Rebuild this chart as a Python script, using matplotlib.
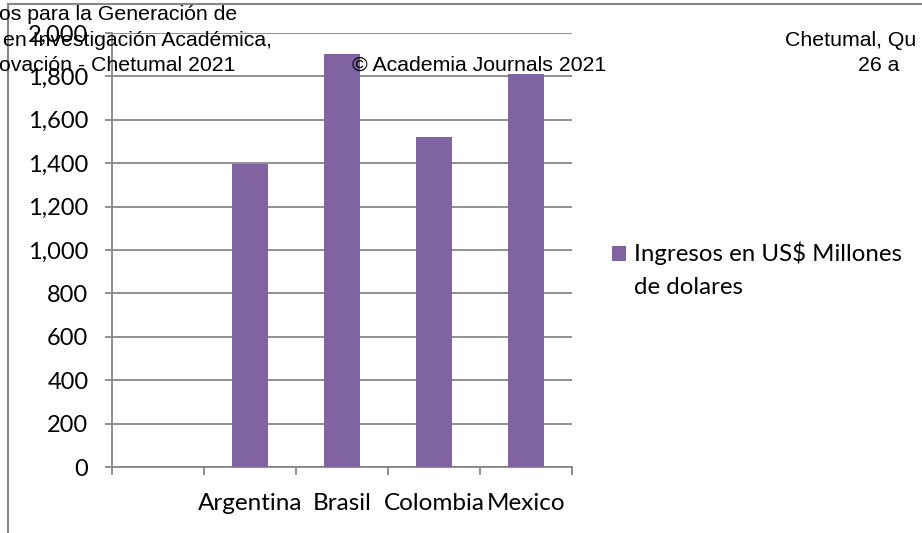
import numpy as np
import matplotlib
matplotlib.use("Agg")
import matplotlib.pyplot as plt
from matplotlib.lines import Line2D
from matplotlib.patches import Rectangle
from matplotlib.legend_handler import HandlerPatch, update_from_first_child
from matplotlib.container import BarContainer

categories = ["", "Argentina", "Brasil", "Colombia", "Mexico"]
values = [np.nan, 1395, 1905, 1520, 1810]
series_label = "Ingresos en US$ Millones\nde dolares"
yticks = [0, 200, 400, 600, 800, 1000, 1200, 1400, 1600, 1800, 2000]
header_left = ["os para la Generación de", "en Investigación Académica,", "ovación - Chetumal 2021"]
header_mid = "© Academia Journals 2021"
header_right = ["Chetumal, Qu", "26 a"]

W, H = 922, 533
fig = plt.figure(figsize=(W / 100, H / 100), dpi=100)
ax = fig.add_axes([112 / W, 1 - 467 / H, (572 - 112) / W, (467 - 33) / H])

gray = "#878787"
purple = "#8064A2"
font = "Lato"

x = np.arange(len(categories))
ax.bar(x, values, width=0.4, color=purple, zorder=3, label=series_label)

ax.set_xlim(-0.5, len(categories) - 0.5)
ax.set_ylim(0, 2000)
ax.set_yticks(yticks)
ax.set_yticklabels([f"{v:,}" for v in yticks], fontfamily=font, fontsize=17)
ax.yaxis.grid(True, color=gray, linewidth=1.3, zorder=0)

ax.set_xticks(np.arange(-0.5, len(categories), 1.0))
ax.set_xticklabels([])
ax.set_xticks(x, minor=True)
ax.set_xticklabels(categories, minor=True, fontfamily=font, fontsize=17.5)
ax.tick_params(axis="x", which="major", length=6, width=1.3, color=gray, direction="out")
ax.tick_params(axis="x", which="minor", length=0, pad=19)
ax.tick_params(axis="y", length=5, width=1.3, color=gray, pad=12)

for s in ["top", "right"]:
    ax.spines[s].set_visible(False)
for s in ["left", "bottom"]:
    ax.spines[s].set_color(gray)
    ax.spines[s].set_linewidth(1.3)


def top_aligned_patch(legend, orig_handle, xdescent, ydescent, width, height, fontsize):
    return Rectangle((-xdescent, -ydescent + 12.2), width, height)


leg = fig.legend(loc="upper left", bbox_to_anchor=(612 / W, 1 - 242 / H), frameon=False,
                 prop={"family": font, "size": 17.3}, handlelength=0.58, handleheight=0.58,
                 handletextpad=0.33, borderpad=0, borderaxespad=0,
                 handler_map={BarContainer: HandlerPatch(patch_func=top_aligned_patch,
                                                         update_func=update_from_first_child)})
for t in leg.get_texts():
    t.set_linespacing(1.7)

# page frame lines
fig.add_artist(Line2D([8 / W, 1.0], [1 - 4 / H, 1 - 4 / H], color=gray, linewidth=1.5))
fig.add_artist(Line2D([8 / W, 8 / W], [1 - 4 / H, 0.0], color=gray, linewidth=1.5))

hfont = dict(family="Liberation Sans", fontsize=15.3, color="black", va="baseline", ha="left")
base = [20, 45.5, 71]
xs = [-1, 3, -1]
for txt, b, xx in zip(header_left, base, xs):
    fig.text(xx / W, 1 - b / H, txt, **hfont)
fig.text(352 / W, 1 - 71 / H, header_mid, **hfont)
fig.text(785 / W, 1 - 45.5 / H, header_right[0], **hfont)
fig.text(858 / W, 1 - 71 / H, header_right[1], **hfont)

fig.savefig("out.png", dpi=100)
